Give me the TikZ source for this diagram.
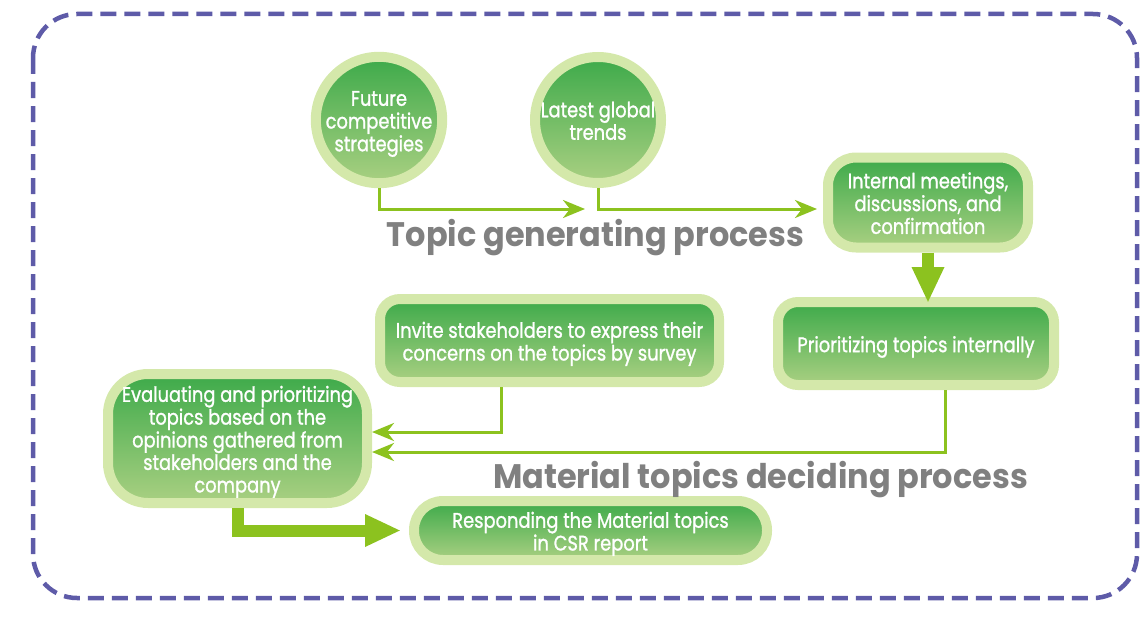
\documentclass[tikz,border=0pt]{standalone}
\usepackage{fontspec}
\setmainfont{Poppins}
\newfontfamily\nodefont[FakeBold=1.3]{Poppins}
\usetikzlibrary{arrows.meta}
\definecolor{ring}{HTML}{D4E8AA}
\definecolor{gtop}{HTML}{3DAA4A}
\definecolor{gbot}{HTML}{AAD082}
\definecolor{arr}{HTML}{8CC21F}
\definecolor{ttl}{HTML}{808080}
\definecolor{framec}{HTML}{5E5BA8}
\newcommand\nt[2][0.85]{\raisebox{-4pt}[\height][\depth]{\scalebox{#1}[1]{\nodefont\fontsize{21}{22.5}\selectfont\begin{tabular}{@{}c@{}}#2\end{tabular}}}}
\begin{document}
\begin{tikzpicture}[x=1pt,y=-1pt,
 box/.style={draw=ring, line width=10pt, top color=gtop, bottom color=gbot, text=white, inner sep=0pt, rectangle},
 disc/.style={draw=ring, line width=10pt, top color=gtop, bottom color=gbot, text=white, inner sep=0pt, circle, minimum size=126pt},
 thinarrow/.style={draw=arr, line width=3pt, -{Stealth[length=22pt,width=18pt,inset=7pt]}},
 thickarrow/.style={draw=arr, line width=12pt, -{Triangle[length=36pt,width=30pt]}},
 ttlnode/.style={text=ttl, font=\bfseries\fontsize{34}{40}\selectfont, anchor=base, inner sep=0pt}]
\useasboundingbox (0,0) rectangle (1141,618);
\draw[framec, line width=4.5pt, dash pattern=on 16pt off 8pt, rounded corners=44pt] (33,14) rectangle (1137,598);

\node[disc] (c1) at (379,120) {\nt{Future\\competitive\\strategies}};
\node[disc] (c2) at (598,120) {\nt{Latest global\\trends}};
\node[box, minimum width=200pt, minimum height=90pt, rounded corners=28pt] (int) at (928,202.5) {\nt{Internal meetings,\\discussions, and\\confirmation}};
\node[box, minimum width=276pt, minimum height=83pt, rounded corners=20pt] (pri) at (916,343.5) {\nt{Prioritizing topics internally}};
\node[box, minimum width=339pt, minimum height=83pt, rounded corners=20pt] (inv) at (549.5,340.5) {\nt{Invite stakeholders to express their\\concerns on the topics by survey}};
\node[box, minimum width=259pt, minimum height=129pt, rounded corners=40pt] (ev) at (237.5,438.5) {\nt{Evaluating and prioritizing\\topics based on the\\opinions gathered from\\stakeholders and the\\company}};
\node[box, minimum width=353pt, minimum height=59pt, rounded corners=29pt] (res) at (590.5,530.5) {\nt{Responding the Material topics\\in CSR report}};

\node[ttlnode] (tg) at (595.5,246) {\scalebox{0.94}[1]{Topic generating process}};
\node[ttlnode] (tm) at (760.5,488) {\scalebox{0.94}[1]{Material topics deciding process}};

\coordinate (k1) at (585,209);
\coordinate (k2) at (817,209);
\coordinate (a1) at (501,432);
\coordinate (a2) at (945,452);
\draw[thinarrow] (c1.south) |- (k1);
\draw[thinarrow] (c2.south) |- (k2);
\draw[thickarrow, shorten >=-6pt] (int.south) -- (int.south |- pri.north);
\draw[thinarrow] (a1 |- inv.south) -- (a1) -- (ev.east |- a1);
\draw[thinarrow] (a2 |- pri.south) -- (a2) -- (ev.east |- a2);
\draw[thickarrow, shorten >=8pt] (ev.south) |- (res.west);
\end{tikzpicture}
\end{document}
